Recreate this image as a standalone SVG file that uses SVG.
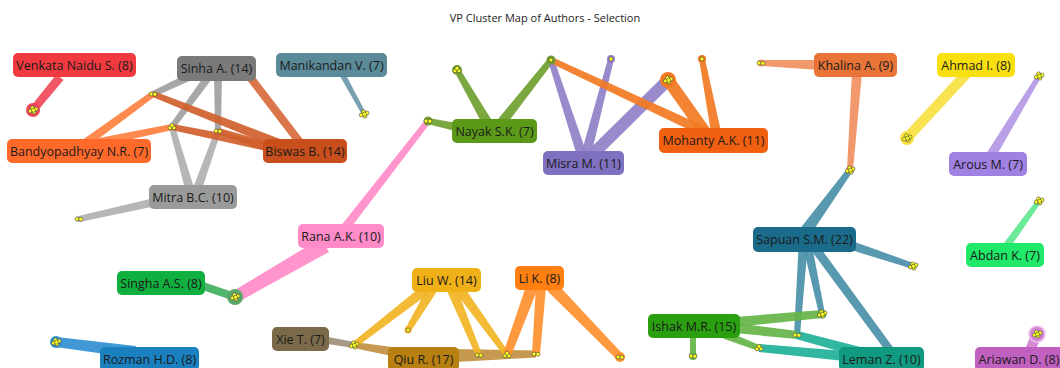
<svg xmlns="http://www.w3.org/2000/svg" xmlns:xlink="http://www.w3.org/1999/xlink" width="1060" height="368" viewBox="0 0 1060 368">
<style>
.t{font-family:"Open Sans","Noto Sans",sans-serif;font-size:12.5px;fill:#1a1a1a;text-anchor:middle;dominant-baseline:central}
.title{font-family:"Open Sans","Noto Sans",sans-serif;font-size:11px;fill:#222;text-anchor:middle}
.e{opacity:0.92}
.dot{fill:#ffff20;stroke:#444;stroke-width:0.6}
</style>
<defs>
<g id="d1"><circle class="dot" cx="0" cy="0" r="2"/></g>
<g id="d2"><circle class="dot" cx="-1.9" cy="0" r="2"/><circle class="dot" cx="1.9" cy="0.3" r="2"/></g>
<g id="d3"><circle class="dot" cx="-2" cy="0.8" r="2"/><circle class="dot" cx="1.9" cy="0.8" r="2"/><circle class="dot" cx="0" cy="-1.7" r="2"/></g>
<g id="d5"><circle class="dot" cx="-2.6" cy="1" r="2"/><circle class="dot" cx="1" cy="2.1" r="2"/><circle class="dot" cx="3" cy="-1" r="2"/><circle class="dot" cx="-0.5" cy="-2.1" r="2"/><circle class="dot" cx="0.5" cy="0.2" r="2"/></g>
</defs>
<rect width="1060" height="368" fill="#ffffff"/>
<text class="title" x="545" y="22">VP Cluster Map of Authors - Selection</text>
<g id="connectors">
<polygon class="e" fill="#f04858" points="56.5,74.2 29.9,107.5 36.1,112.5 63.5,79.9"/>
<circle cx="33" cy="110" r="7" fill="#f04858"/>
<polygon class="e" fill="#6a98a8" points="337.4,71.4 362.2,115 365.8,113 342.6,68.6"/>
<polygon class="e" fill="#a0a0a0" points="198.3,68.4 151.7,91.3 154.3,96.7 201.7,75.6"/>
<polygon class="e" fill="#a0a0a0" points="208.8,69.6 169.6,125.2 174.4,128.8 215.2,74.4"/>
<polygon class="e" fill="#a0a0a0" points="214,72 215,131 221,131 222,72"/>
<polygon class="e" fill="#b0b0b0" points="194.3,188.8 174.9,126.2 169.1,127.8 185.7,191.2"/>
<polygon class="e" fill="#b0b0b0" points="201.2,191.5 220.8,132 215.2,130 192.8,188.5"/>
<polygon class="e" fill="#b0b0b0" points="154.1,198.1 78.3,216.1 79.7,221.9 155.9,205.9"/>
<circle cx="79" cy="219" r="3" fill="#b0b0b0"/>
<polygon class="e" fill="#ff8040" points="89.6,145.6 154.8,96.4 151.2,91.6 84.4,138.4"/>
<polygon class="e" fill="#ff8040" points="100.8,145.9 172.6,129.9 171.4,124.1 99.2,138.1"/>
<polygon class="e" fill="#d86a3c" points="242.8,74.4 298.8,147.4 305.2,142.6 249.2,69.6"/>
<polygon class="e" fill="#d0602e" points="291.8,143.4 154.1,91.2 151.9,96.8 288.2,152.6"/>
<polygon class="e" fill="#d0602e" points="286,145.1 172.6,124.1 171.4,129.9 284,154.9"/>
<polygon class="e" fill="#d0602e" points="286.5,147.2 218.9,128.1 217.1,133.9 283.5,156.8"/>
<polygon class="e" fill="#ff8cc8" points="348.6,230.8 430.4,122.8 425.6,119.2 341.4,225.2"/>
<polygon class="e" fill="#ff8cc8" points="321,238.1 232,291.8 238,302.2 329,251.9"/>
<polygon class="e" fill="#40b060" points="198.7,288.8 233.7,300.8 236.3,293.2 201.3,281.2"/>
<circle cx="235" cy="297" r="8" fill="#5aa868"/>
<polygon class="e" fill="#70a030" points="491.3,119.5 459.6,68.5 454.4,71.5 482.7,124.5"/>
<circle cx="457" cy="70" r="5" fill="#70a030"/>
<polygon class="e" fill="#70a030" points="456.8,123.1 428.6,118.1 427.4,123.9 455.2,130.9"/>
<circle cx="428" cy="121" r="4.5" fill="#70a030"/>
<polygon class="e" fill="#70a030" points="505.9,125.1 553.4,61.9 548.6,58.1 498.1,118.9"/>
<polygon class="e" fill="#9080c8" points="586.8,153.4 553.9,59.1 548.1,60.9 577.2,156.6"/>
<polygon class="e" fill="#9080c8" points="590.8,156.3 613.9,59.8 608.1,58.2 581.2,153.7"/>
<circle cx="611" cy="59" r="4" fill="#9080c8"/>
<polygon class="e" fill="#9080c8" points="596.2,159.3 672.2,84.3 663.8,75.7 587.8,150.7"/>
<polygon class="e" fill="#f27a22" opacity="0.85" points="707.1,127.5 552.3,57.3 549.7,62.7 702.9,136.5"/>
<polygon class="e" fill="#f27a22" points="709.9,128.5 672.9,76.5 663.1,83.5 700.1,135.5"/>
<circle cx="668" cy="80" r="8" fill="#f27a22"/>
<polygon class="e" fill="#f27a22" points="720.9,131.1 704.9,58.4 699.1,59.6 711.1,132.9"/>
<circle cx="702" cy="59" r="4" fill="#f27a22"/>
<circle cx="551" cy="60" r="4.5" fill="#6a9a30"/>
<polygon class="e" fill="#f09060" points="820.2,60 761.1,60 760.9,66 819.8,70"/>
<circle cx="761" cy="63" r="3.5" fill="#f09060"/>
<polygon class="e" fill="#f09060" points="852,71.6 847,169.8 853,170.2 862,72.4"/>
<polygon class="e" fill="#f8e040" points="964.3,68.6 903.3,134.6 910.7,141.4 971.7,75.4"/>
<circle cx="907" cy="138" r="7" fill="#f8e040"/>
<polygon class="e" fill="#b498e4" points="994.3,159.6 1041.1,77.3 1036.9,74.7 985.7,154.4"/>
<polygon class="e" fill="#4a90a8" points="809.9,235.5 852.4,171.8 847.6,168.2 800.1,228.5"/>
<circle cx="850" cy="170" r="4" fill="#f09060"/>
<polygon class="e" fill="#4a90a8" points="848.6,249.3 912.1,268.8 913.9,263.2 851.4,240.7"/>
<polygon class="e" fill="#4a90a8" points="803.6,248.9 819.1,314.6 824.9,313.4 812.4,247.1"/>
<polygon class="e" fill="#4a90a8" points="798.5,247.7 794,334.8 800,335.2 807.5,248.3"/>
<polygon class="e" fill="#4a90a8" points="811.4,250.7 886.8,352.4 893.2,347.6 818.6,245.3"/>
<polygon class="e" fill="#66b448" points="735.5,327 822.4,318 821.6,310 734.5,317"/>
<circle cx="822" cy="314" r="4.5" fill="#66b448"/>
<polygon class="e" fill="#66b448" points="734.4,333 796.6,339 797.4,331 735.6,323"/>
<polygon class="e" fill="#66b448" points="723.6,338.7 757.9,350.8 760.1,345.2 726.4,331.3"/>
<polygon class="e" fill="#66b448" points="690,334 690,356 696,356 696,334"/>
<circle cx="693" cy="356" r="4" fill="#66b448"/>
<polygon class="e" fill="#20b098" points="861.3,347.2 798,331.1 796,338.9 858.7,356.8"/>
<polygon class="e" fill="#20b098" points="845.5,351 759.4,344 758.6,352 844.5,361"/>
<polygon class="e" fill="#60e890" points="1008.2,250.3 1041,202.5 1037,199.5 1001.8,245.7"/>
<polygon class="e" fill="#d080d0" points="1034.6,352 1041.6,336 1032.4,332 1025.4,348"/>
<circle cx="1037" cy="334" r="8" fill="#d488d4" stroke="#f0c4f0" stroke-width="1.5"/>
<polygon class="e" fill="#3090d0" points="135.8,346 56.6,337 55.4,347 134.2,358"/>
<circle cx="56" cy="342" r="6" fill="#3090d0"/>
<polygon class="e" fill="#a09078" points="324.4,343.5 353.5,348 354.5,342 325.6,336.5"/>
<polygon class="e" fill="#c09040" points="395.8,347.6 354.5,342 353.5,348 394.2,356.4"/>
<polygon class="e" fill="#c09040" points="455,349 536,350.5 536,357.5 455,362"/>
<polygon class="e" fill="#f2b424" points="421.9,286 352.2,342.6 355.8,347.4 428.1,294"/>
<polygon class="e" fill="#f2b424" points="427.7,287.4 405.4,328.5 410.6,331.5 436.3,292.6"/>
<circle cx="408" cy="330" r="3.5" fill="#f2b424"/>
<polygon class="e" fill="#f2b424" points="447.4,291.9 476.2,356.2 481.8,353.8 456.6,288.1"/>
<polygon class="e" fill="#f2b424" points="456,292.9 504.6,356.8 509.4,353.2 464,287.1"/>
<polygon class="e" fill="#ff9030" points="526.4,284.9 503.2,353.6 510.8,356.4 537.6,289.1"/>
<polygon class="e" fill="#ff9030" points="536,286.6 532,353.7 540,354.3 546,287.4"/>
<polygon class="e" fill="#ff9030" points="545.7,289.2 617.1,359.8 622.9,354.2 554.3,280.8"/>
<circle cx="620" cy="357" r="5" fill="#ff9030"/>
<use xlink:href="#d5" x="33" y="110"/>
<use xlink:href="#d5" x="364" y="114"/>
<use xlink:href="#d2" x="153" y="94"/>
<use xlink:href="#d3" x="172" y="127"/>
<use xlink:href="#d2" x="218" y="131"/>
<use xlink:href="#d2" x="79" y="219"/>
<use xlink:href="#d5" x="235" y="297"/>
<use xlink:href="#d2" x="428" y="121"/>
<use xlink:href="#d3" x="457" y="70"/>
<use xlink:href="#d1" x="551" y="60"/>
<use xlink:href="#d1" x="611" y="59"/>
<use xlink:href="#d5" x="668" y="80"/>
<use xlink:href="#d1" x="702" y="59"/>
<use xlink:href="#d2" x="761" y="63"/>
<use xlink:href="#d5" x="850" y="170"/>
<use xlink:href="#d5" x="907" y="138"/>
<use xlink:href="#d5" x="1039" y="76"/>
<use xlink:href="#d5" x="913" y="266"/>
<use xlink:href="#d5" x="822" y="314"/>
<use xlink:href="#d2" x="797" y="335"/>
<use xlink:href="#d3" x="759" y="348"/>
<use xlink:href="#d2" x="693" y="356"/>
<use xlink:href="#d5" x="1039" y="201"/>
<use xlink:href="#d5" x="1037" y="334"/>
<use xlink:href="#d5" x="56" y="342"/>
<use xlink:href="#d5" x="354" y="345"/>
<use xlink:href="#d2" x="479" y="355"/>
<use xlink:href="#d3" x="507" y="355"/>
<use xlink:href="#d2" x="536" y="354"/>
<use xlink:href="#d1" x="408" y="330"/>
<use xlink:href="#d2" x="620" y="357"/>
</g>
<g id="n-venkata"><rect x="13" y="53" width="123" height="24" rx="5" fill="#f03a40"/><text class="t" x="74.5" y="65">Venkata Naidu S. (8)</text></g>
<g id="n-sinha"><rect x="177" y="56" width="79" height="25" rx="5" fill="#7a7a7a"/><text class="t" x="216.5" y="68.5">Sinha A. (14)</text></g>
<g id="n-manikandan"><rect x="276" y="53" width="111" height="24" rx="5" fill="#5b8a98"/><text class="t" x="331.5" y="65">Manikandan V. (7)</text></g>
<g id="n-bandyopadhyay"><rect x="7" y="139" width="144" height="24" rx="5" fill="#ff6a2a"/><text class="t" x="79" y="151">Bandyopadhyay N.R. (7)</text></g>
<g id="n-biswas"><rect x="263" y="139" width="84" height="24" rx="5" fill="#c84e1c"/><text class="t" x="305" y="151">Biswas B. (14)</text></g>
<g id="n-mitra"><rect x="149" y="185" width="88" height="24" rx="5" fill="#9a9a9a"/><text class="t" x="193" y="197">Mitra B.C. (10)</text></g>
<g id="n-rana"><rect x="298" y="224" width="86" height="24" rx="5" fill="#ff8cc8"/><text class="t" x="341" y="236">Rana A.K. (10)</text></g>
<g id="n-nayak"><rect x="452" y="119" width="85" height="24" rx="5" fill="#5a9a18"/><text class="t" x="494.5" y="131">Nayak S.K. (7)</text></g>
<g id="n-misra"><rect x="543" y="151" width="81" height="24" rx="5" fill="#8070c0"/><text class="t" x="583.5" y="163">Misra M. (11)</text></g>
<g id="n-mohanty"><rect x="659" y="128" width="109" height="25" rx="5" fill="#f06010"/><text class="t" x="713.5" y="140.5">Mohanty A.K. (11)</text></g>
<g id="n-khalina"><rect x="814" y="53" width="83" height="24" rx="5" fill="#e87438"/><text class="t" x="855.5" y="65">Khalina A. (9)</text></g>
<g id="n-ahmad"><rect x="937" y="53" width="78" height="24" rx="5" fill="#f8e010"/><text class="t" x="976" y="65">Ahmad I. (8)</text></g>
<g id="n-arous"><rect x="949" y="152" width="78" height="24" rx="5" fill="#a080e0"/><text class="t" x="988" y="164">Arous M. (7)</text></g>
<g id="n-sapuan"><rect x="753" y="227" width="103" height="25" rx="5" fill="#1a6a8a"/><text class="t" x="804.5" y="239.5">Sapuan S.M. (22)</text></g>
<g id="n-abdan"><rect x="966" y="243" width="78" height="24" rx="5" fill="#20e868"/><text class="t" x="1005" y="255">Abdan K. (7)</text></g>
<g id="n-ishak"><rect x="648" y="314" width="92" height="24" rx="5" fill="#2aa010"/><text class="t" x="694" y="326">Ishak M.R. (15)</text></g>
<g id="n-leman"><rect x="839" y="347" width="85" height="24" rx="5" fill="#109a80"/><text class="t" x="881.5" y="359">Leman Z. (10)</text></g>
<g id="n-ariawan"><rect x="975" y="347" width="92" height="24" rx="5" fill="#c060c0"/><text class="t" x="1019" y="359">Ariawan D. (8)</text></g>
<g id="n-singha"><rect x="117" y="271" width="88" height="24" rx="5" fill="#10b040"/><text class="t" x="161" y="283">Singha A.S. (8)</text></g>
<g id="n-rozman"><rect x="100" y="347" width="99" height="24" rx="5" fill="#1a80c0"/><text class="t" x="149.5" y="359">Rozman H.D. (8)</text></g>
<g id="n-xie"><rect x="272" y="327" width="57" height="24" rx="5" fill="#7a6a4a"/><text class="t" x="300.5" y="339">Xie T. (7)</text></g>
<g id="n-qiu"><rect x="388" y="347" width="71" height="24" rx="5" fill="#b88010"/><text class="t" x="423.5" y="359">Qiu R. (17)</text></g>
<g id="n-liu"><rect x="412" y="268" width="69" height="24" rx="5" fill="#f0b018"/><text class="t" x="446.5" y="280">Liu W. (14)</text></g>
<g id="n-li"><rect x="515" y="266" width="49" height="24" rx="5" fill="#ff8010"/><text class="t" x="539.5" y="278">Li K. (8)</text></g>
</svg>
